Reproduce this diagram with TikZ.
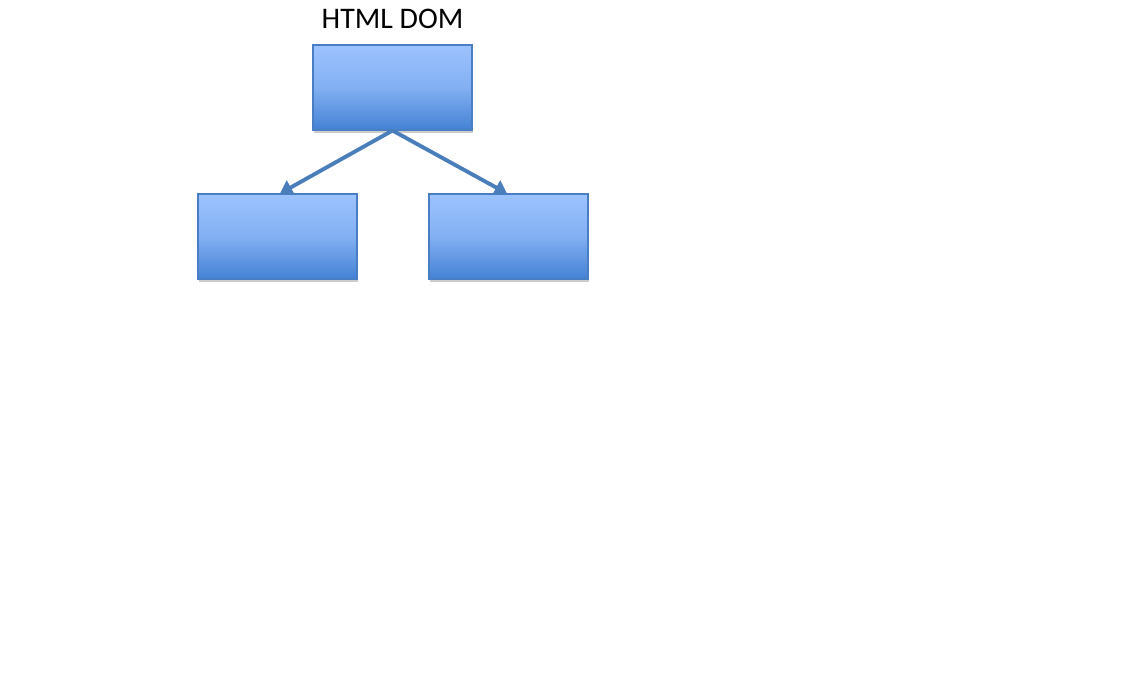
\documentclass[tikz,border=0pt]{standalone}
\usepackage{fontspec}
\setmainfont{Carlito}
\usepackage{tikz}
\usetikzlibrary{arrows.meta, shadows}
\definecolor{boxtop}{HTML}{9DC3FF}
\definecolor{boxbottom}{HTML}{4482D4}
\definecolor{boxedge}{HTML}{4A7EC4}
\definecolor{linkblue}{HTML}{4A7EBB}

\begin{document}
\begin{tikzpicture}[x=0.02cm, y=-0.02cm,
  domnode/.style = {draw=boxedge, line width=0.6pt, minimum width=3.18cm, minimum height=1.7cm,
    inner sep=0pt, top color=boxtop, bottom color=boxbottom, middle color=boxtop!70!boxbottom,
    drop shadow={shadow xshift=0.6pt, shadow yshift=-1.5pt, fill=black, opacity=0.2}},
  link/.style = {draw=linkblue, line width=2.2pt, -{Triangle[length=7pt, width=9pt]}}]
\useasboundingbox (0,0) rectangle (1125,679);
\node[font=\fontsize{17}{20}\selectfont] (title) at (392.5,19) {HTML DOM};
\node[domnode] (root) at (392.5,87.5) {};
\node[domnode] (left) at (277.5,236.5) {};
\node[domnode] (right) at (508.5,236.5) {};
\coordinate (fork) at (root.south);
\draw[link] (fork) -- ([xshift=2.5*0.02cm]left.north);
\draw[link] (fork) -- ([xshift=-1.5*0.02cm]right.north);
\end{tikzpicture}
\end{document}
